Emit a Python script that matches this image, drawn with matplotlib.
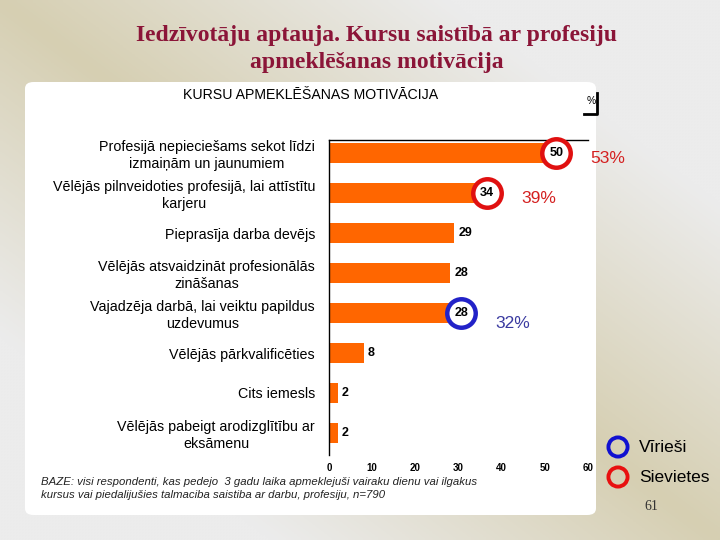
import numpy as np
import matplotlib.pyplot as plt
from matplotlib.patches import FancyBboxPatch
from matplotlib.lines import Line2D

plt.rcParams['font.family'] = ['Liberation Sans', 'DejaVu Sans']

# data
categories = [
    'Profesijā nepieciešams sekot līdzi\nizmaiņām un jaunumiem',
    'Vēlējās pilnveidoties profesijā, lai attīstītu\nkarjeru',
    'Pieprasīja darba devējs',
    'Vēlējās atsvaidzināt profesionālās\nzināšanas',
    'Vajadzēja darbā, lai veiktu papildus\nuzdevumus',
    'Vēlējās pārkvalificēties',
    'Cits iemesls',
    'Vēlējās pabeigt arodizglītību ar\neksāmenu',
]
values = [50, 34, 29, 28, 28, 8, 2, 2]
xticks = [0, 10, 20, 30, 40, 50, 60]

# highlighted answers: women (red) and men (blue)
women_idx = [0, 1]
women_pct = ['53%', '39%']
men_idx = [4]
men_pct = ['32%']

ORANGE = '#ff6600'
RED = '#e01010'
BLUE = '#2222c8'

W, H = 720, 540
def fx(px):
    return px / W
def fy(py):
    return 1 - py / H

fig = plt.figure(figsize=(7.2, 5.4), dpi=100)

# slide background
bg = fig.add_axes([0, 0, 1, 1])
bg.axis('off')
xx, yy = np.meshgrid(np.linspace(0, 1, 240), np.linspace(0, 1, 180))
t = np.clip(np.abs(xx - yy) * 1.6, 0, 1)[..., None]
beige = np.array([214, 207, 178]) / 255
grey = np.array([236, 236, 236]) / 255
bg.imshow(beige * (1 - t) + grey * t, aspect='auto', extent=[0, 1, 0, 1])
bg.set_xlim(0, 1)
bg.set_ylim(0, 1)

panel = FancyBboxPatch((fx(25), fy(515)), fx(596) - fx(25), fy(82) - fy(515),
                       boxstyle='round,pad=0,rounding_size=0.012',
                       fc='white', ec='none')
bg.add_patch(panel)

fig.text(fx(377), fy(49), 'Iedzīvotāju aptauja. Kursu saistībā ar profesiju\napmeklēšanas motivācija',
         ha='center', va='center', fontsize=17, fontweight='bold', color='#8b1538',
         family=['Liberation Serif', 'DejaVu Serif'], linespacing=1.38)

fig.text(fx(311), fy(95), 'KURSU APMEKLĒŠANAS MOTIVĀCIJA', ha='center', va='center', fontsize=10.2)
fig.text(fx(591), fy(101), '%', ha='center', va='center', fontsize=7.5)
bg.add_line(Line2D([fx(597), fx(597), fx(584)], [fy(93), fy(114), fy(114)], color='black', lw=2))

fig.text(fx(41), fy(488.5), 'BAZE: visi respondenti, kas pedejo  3 gadu laika apmeklejuši vairaku dienu vai ilgakus\n'
         'kursus vai piedalijušies talmaciba saistiba ar darbu, profesiju, n=790',
         ha='left', va='center', fontsize=8.2, style='italic', linespacing=1.42, color='#222222')

# main chart
ax = fig.add_axes([fx(329), fy(455), fx(588) - fx(329), fy(140) - fy(455)])
ax.patch.set_alpha(0)
pos = np.arange(len(values))
ax.barh(pos, values, height=0.5, color=ORANGE, zorder=2)
ax.set_xlim(0, 60)
ax.set_ylim(7.55, -0.325)
for s in ['right', 'bottom']:
    ax.spines[s].set_visible(False)
for s in ['top', 'left']:
    ax.spines[s].set_linewidth(1)
ax.set_xticks(xticks)
ax.set_xticklabels([str(v) for v in xticks], fontsize=7, fontweight='bold')
ax.set_yticks(pos)
ax.set_yticklabels(categories, fontsize=10.3, linespacing=1.25)
for lab in ax.get_yticklabels():
    lab.set_multialignment('center')
ax.tick_params(axis='x', length=0, pad=6)
ax.tick_params(axis='y', length=0, pad=10)

for i, v in enumerate(values):
    ax.text(v + 1.0, i, str(v), ha='left', va='center', fontsize=9, fontweight='bold', zorder=5)

for idx, pct in zip(women_idx, women_pct):
    v = values[idx]
    ax.scatter([v + 2.5], [idx], s=420, facecolor='white', edgecolor=RED, linewidth=3.2,
               zorder=4, clip_on=False)
    ax.text(v + 10.5, idx + 0.13, pct, ha='left', va='center', fontsize=12.5, color='#d42020',
            clip_on=False)
for idx, pct in zip(men_idx, men_pct):
    v = values[idx]
    ax.scatter([v + 2.5], [idx], s=420, facecolor='white', edgecolor=BLUE, linewidth=3.2,
               zorder=4, clip_on=False)
    ax.text(v + 10.5, idx + 0.25, pct, ha='left', va='center', fontsize=12.5, color='#3a3aa0',
            clip_on=False)

# legend
bg.scatter([fx(618)], [fy(447)], s=190, facecolor='none', edgecolor='#1010d0', linewidth=2.8)
bg.scatter([fx(618)], [fy(477)], s=190, facecolor='none', edgecolor='#e81010', linewidth=2.8)
fig.text(fx(639), fy(447), 'Vīrieši', ha='left', va='center', fontsize=12.5)
fig.text(fx(639), fy(477), 'Sievietes', ha='left', va='center', fontsize=12.5)

fig.text(fx(651), fy(506), '61', ha='center', va='center', fontsize=10,
         family=['Liberation Serif', 'DejaVu Serif'], color='#333333')

fig.savefig('out.png', dpi=100)
